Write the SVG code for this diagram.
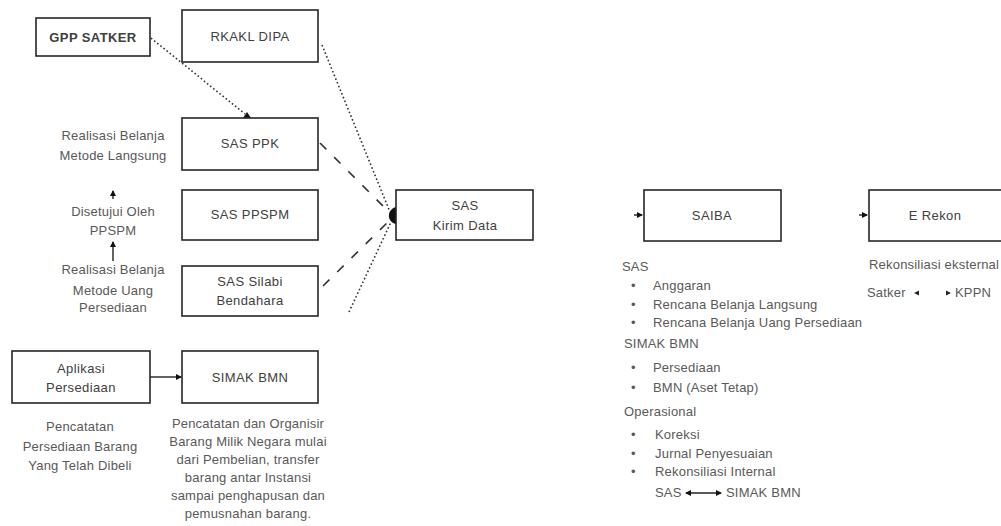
<svg xmlns="http://www.w3.org/2000/svg" width="1001" height="526" viewBox="0 0 1001 526">
<style>
.box{fill:#fff;stroke:#262626;stroke-width:1.6}
.bt{font-family:"Liberation Sans",Arial,sans-serif;font-size:13px;letter-spacing:0.4px;fill:#404040;text-anchor:middle}
.st{font-family:"Liberation Sans",Arial,sans-serif;font-size:13px;letter-spacing:0.2px;fill:#595959;text-anchor:middle}
.lt{font-family:"Liberation Sans",Arial,sans-serif;font-size:13px;letter-spacing:0.2px;fill:#595959}
.dot{fill:none;stroke:#333;stroke-width:1.6;stroke-dasharray:1.6 2.4}
.dash{fill:none;stroke:#333;stroke-width:1.6;stroke-dasharray:9 11}
.ln{fill:none;stroke:#222;stroke-width:1.4}
</style>
<defs>
<marker id="ah" markerWidth="6" markerHeight="6" refX="5" refY="3" orient="auto-start-reverse" markerUnits="userSpaceOnUse">
<path d="M0,0 L6,3 L0,6 Z" fill="#111"/>
</marker>
</defs>
<g id="connectors">
<path class="dot" d="M151,38 L245,114" stroke-dasharray="2 3 2 3"/>
<path d="M243,118 L247,112 L251,118 Z" fill="#111"/>
<path class="dot" d="M322,45 L390,212"/>
<path class="dash" d="M320,143 L389,212"/>
<path class="dash" d="M323,286 L389,221"/>
<path class="dot" d="M349,312 L391,222"/>
<path d="M396,207 C387,209 386,222 396,224 Z" fill="#111"/>
<line class="ln" x1="150" y1="377" x2="181" y2="377" marker-end="url(#ah)"/>
<line class="ln" x1="113" y1="199" x2="113" y2="191" marker-end="url(#ah)"/>
<line class="ln" x1="113" y1="261" x2="113" y2="242" marker-end="url(#ah)"/>
<line class="ln" x1="634" y1="215" x2="642" y2="215" marker-end="url(#ah)"/>
<line class="ln" x1="859" y1="215" x2="867" y2="215" marker-end="url(#ah)"/>
<path d="M914,293 L919,290.5 L919,295.5 Z" fill="#222"/>
<path d="M951,293 L946,290.5 L946,295.5 Z" fill="#222"/>
<line class="ln" x1="686" y1="493" x2="721" y2="493" marker-start="url(#ah)" marker-end="url(#ah)"/>
</g>
<g id="gpp-satker"><rect class="box" x="36" y="18" width="114" height="38"/><text class="bt" x="93" y="42" font-weight="bold" fill="#333" letter-spacing="0">GPP SATKER</text></g>
<g id="rkakl-dipa"><rect class="box" x="182" y="10" width="136" height="52"/><text class="bt" x="250" y="41">RKAKL DIPA</text></g>
<g id="sas-ppk"><rect class="box" x="182" y="118" width="136" height="52"/><text class="bt" x="250" y="148">SAS PPK</text></g>
<g id="sas-ppspm"><rect class="box" x="182" y="190" width="136" height="50"/><text class="bt" x="250" y="219">SAS PPSPM</text></g>
<g id="sas-silabi"><rect class="box" x="182" y="266" width="136" height="50"/><text class="bt" x="250" y="286">SAS Silabi</text><text class="bt" x="250" y="305">Bendahara</text></g>
<g id="sas-kirim"><rect class="box" x="396" y="190" width="137" height="50"/><text class="bt" x="465" y="210">SAS</text><text class="bt" x="465" y="230">Kirim Data</text></g>
<g id="aplikasi-persediaan"><rect class="box" x="12" y="351" width="138" height="52"/><text class="bt" x="81" y="373">Aplikasi</text><text class="bt" x="81" y="392">Persediaan</text></g>
<g id="simak-bmn"><rect class="box" x="182" y="351" width="136" height="52"/><text class="bt" x="250" y="382">SIMAK BMN</text></g>
<g id="saiba"><rect class="box" x="644" y="190" width="137" height="51"/><text class="bt" x="712" y="220">SAIBA</text></g>
<g id="e-rekon"><rect class="box" x="869" y="190" width="140" height="51"/><text class="bt" x="935" y="220">E Rekon</text></g>
<g id="labels">
<text class="st" x="113" y="140">Realisasi Belanja</text>
<text class="st" x="113" y="160">Metode Langsung</text>
<text class="st" x="113" y="216">Disetujui Oleh</text>
<text class="st" x="113" y="235">PPSPM</text>
<text class="st" x="113" y="274">Realisasi Belanja</text>
<text class="st" x="113" y="295">Metode Uang</text>
<text class="st" x="113" y="312">Persediaan</text>
<text class="st" x="80" y="431">Pencatatan</text>
<text class="st" x="80" y="451">Persediaan Barang</text>
<text class="st" x="80" y="470">Yang Telah Dibeli</text>
<text class="st" x="248" y="428">Pencatatan dan Organisir</text>
<text class="st" x="248" y="446">Barang Milik Negara mulai</text>
<text class="st" x="248" y="464">dari Pembelian, transfer</text>
<text class="st" x="248" y="482">barang antar Instansi</text>
<text class="st" x="248" y="500">sampai penghapusan dan</text>
<text class="st" x="248" y="518">pemusnahan barang.</text>
<text class="lt" x="622" y="271">SAS</text>
<text class="lt" x="631" y="290">•</text><text class="lt" x="653" y="290">Anggaran</text>
<text class="lt" x="631" y="309">•</text><text class="lt" x="653" y="309">Rencana Belanja Langsung</text>
<text class="lt" x="631" y="327">•</text><text class="lt" x="653" y="327">Rencana Belanja Uang Persediaan</text>
<text class="lt" x="624" y="348">SIMAK BMN</text>
<text class="lt" x="631" y="372">•</text><text class="lt" x="653" y="372">Persediaan</text>
<text class="lt" x="631" y="392">•</text><text class="lt" x="653" y="392">BMN (Aset Tetap)</text>
<text class="lt" x="624" y="416">Operasional</text>
<text class="lt" x="631" y="439">•</text><text class="lt" x="655" y="439">Koreksi</text>
<text class="lt" x="631" y="458">•</text><text class="lt" x="655" y="458">Jurnal Penyesuaian</text>
<text class="lt" x="631" y="476">•</text><text class="lt" x="655" y="476">Rekonsiliasi Internal</text>
<text class="lt" x="655" y="497">SAS</text>
<text class="lt" x="726" y="497">SIMAK BMN</text>
<text class="lt" x="869" y="269">Rekonsiliasi eksternal</text>
<text class="lt" x="867" y="297">Satker</text>
<text class="lt" x="955" y="297">KPPN</text>
</g>
</svg>
